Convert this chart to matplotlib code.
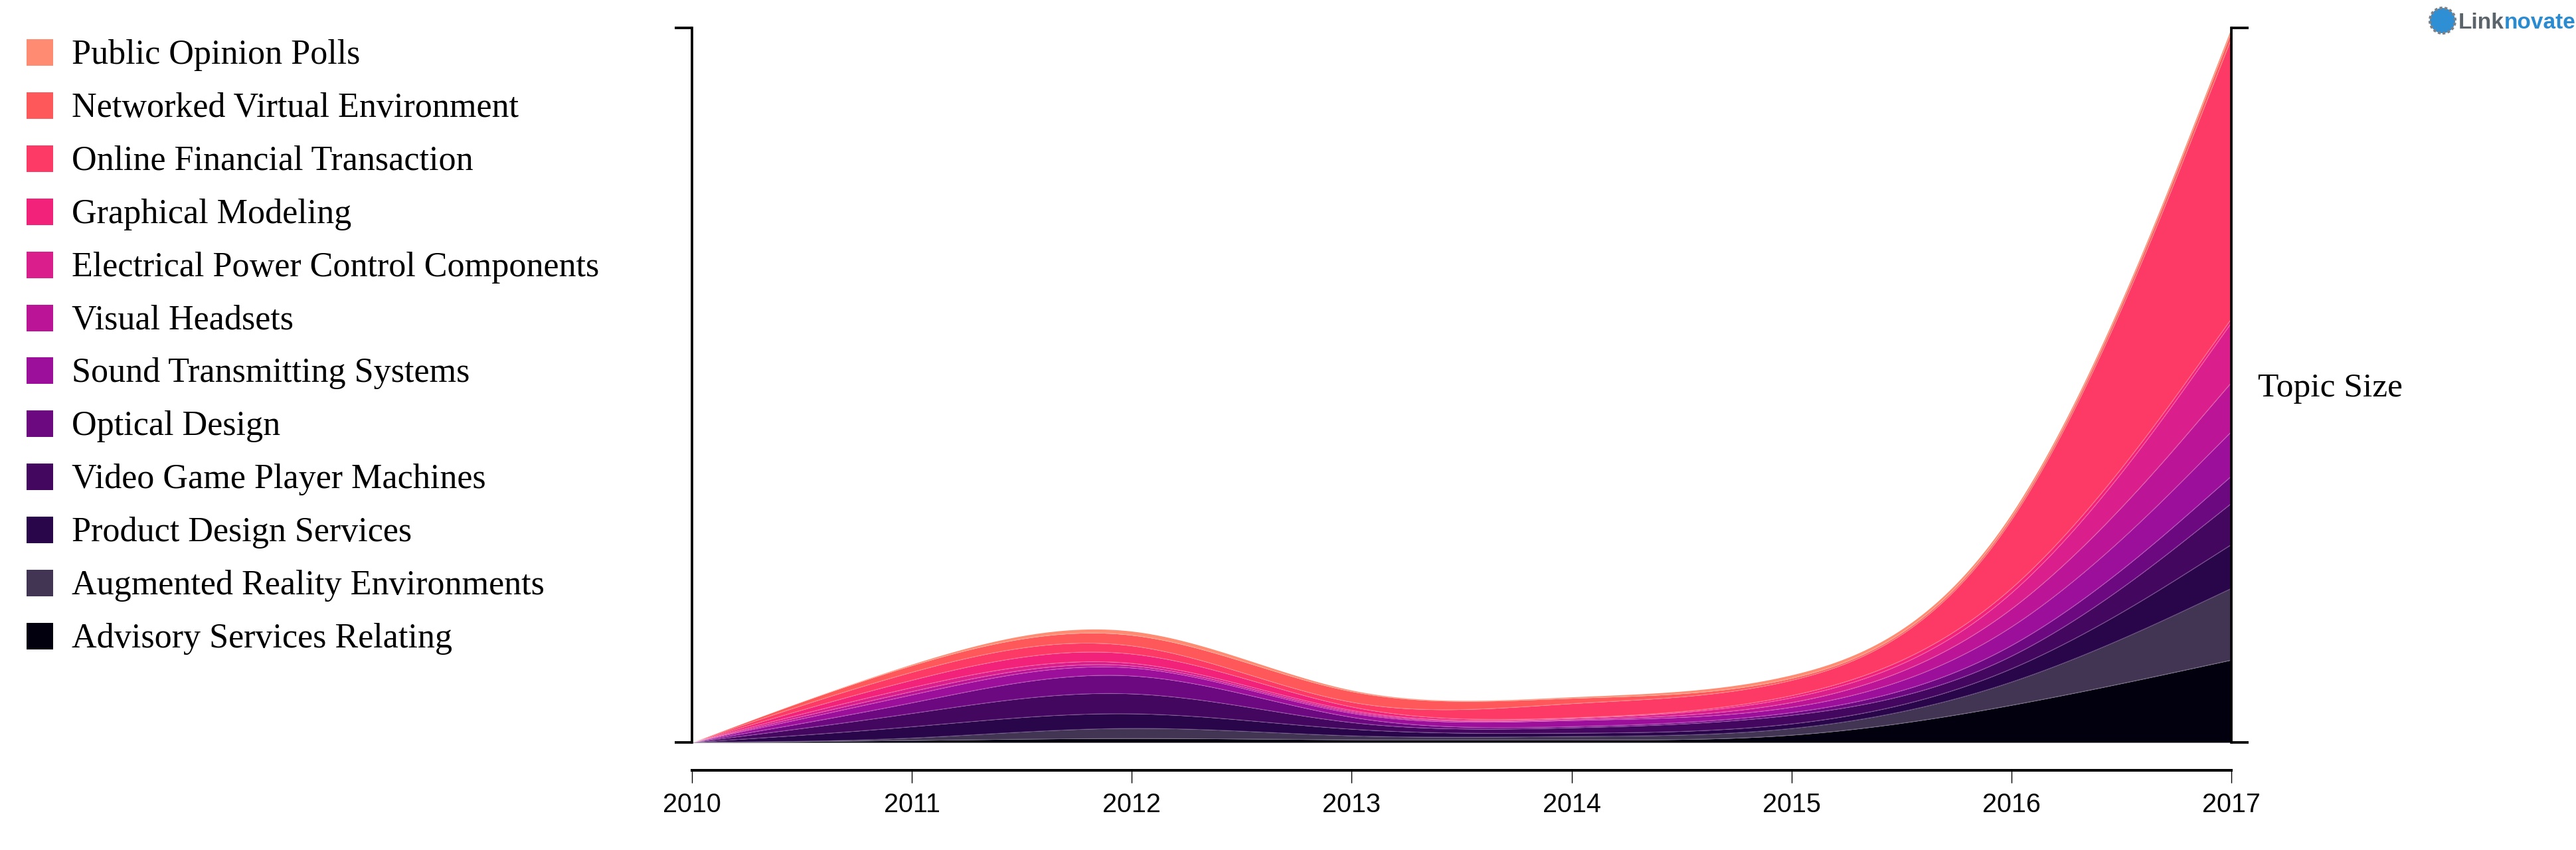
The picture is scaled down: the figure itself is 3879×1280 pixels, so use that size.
import numpy as np
import matplotlib.pyplot as plt
from matplotlib.patches import Rectangle, Ellipse

W, H = 3880, 1280

years = [2010, 2011, 2012, 2013, 2014, 2015, 2016, 2017]

# topic sizes, bottom layer first
advisory_services = [0, 3, 6, 4, 4, 11, 56, 124]
augmented_reality = [0, 3, 15, 6, 5, 10, 35, 108]
product_design = [0, 17, 22, 10, 5, 7, 20, 66]
video_game = [0, 20, 30, 10, 8, 13, 19, 62]
optical_design = [0, 16, 27, 8, 2, 4, 16, 41]
sound_transmitting = [0, 12, 12, 6, 9, 8, 28, 67]
visual_headsets = [0, 5, 3, 2, 1, 7, 27, 74]
electrical_power = [0, 6, 4, 2, 1, 7, 24, 90]
graphical_modeling = [0, 11, 14, 5, 0, 3, 7, 6]
online_financial = [0, 12, 12, 6, 21, 23, 103, 422]
networked_virtual = [0, 10, 16, 16, 8, 3, 4, 10]
public_opinion = [0, 2, 6, 2, 2, 5, 5, 6]

series = [advisory_services, augmented_reality, product_design, video_game,
          optical_design, sound_transmitting, visual_headsets, electrical_power,
          graphical_modeling, online_financial, networked_virtual, public_opinion]

labels = ['Advisory Services Relating', 'Augmented Reality Environments',
          'Product Design Services', 'Video Game Player Machines',
          'Optical Design', 'Sound Transmitting Systems', 'Visual Headsets',
          'Electrical Power Control Components', 'Graphical Modeling',
          'Online Financial Transaction', 'Networked Virtual Environment',
          'Public Opinion Polls']

colors = ['#02000f', '#423453', '#29064a', '#44075f', '#6c0880', '#9c0f9b',
          '#bb1496', '#da1f8c', '#f2217a', '#fd3a65', '#fe585a', '#fe8b72']


def basis_controls(vals):
    # control values so the d3-style basis curve passes through the read values
    s = np.asarray(vals, float)
    m = len(s)
    A = np.zeros((m, m))
    A[0, 0] = 1
    A[-1, -1] = 1
    for i in range(1, m - 1):
        A[i, i - 1:i + 2] = [1 / 6, 4 / 6, 1 / 6]
    return np.clip(np.linalg.solve(A, s), 0, None)


def basis_curve(xs, ys, n=40):
    xs = np.asarray(xs, float)
    ys = np.asarray(ys, float)
    t = np.linspace(0, 1, n)[1:]

    def bez(p0, c1, c2, p3):
        return (1 - t) ** 3 * p0 + 3 * (1 - t) ** 2 * t * c1 + 3 * (1 - t) * t ** 2 * c2 + t ** 3 * p3

    px, py = [xs[0]], [ys[0]]
    sx, sy = (5 * xs[0] + xs[1]) / 6, (5 * ys[0] + ys[1]) / 6
    px.append(sx)
    py.append(sy)
    m = len(xs)
    for k in range(2, m + 1):
        a, b = k - 2, k - 1
        if k < m:
            ex, ey = (xs[a] + 4 * xs[b] + xs[k]) / 6, (ys[a] + 4 * ys[b] + ys[k]) / 6
        else:
            ex, ey = (xs[a] + 5 * xs[b]) / 6, (ys[a] + 5 * ys[b]) / 6
        c1x, c1y = (2 * xs[a] + xs[b]) / 3, (2 * ys[a] + ys[b]) / 3
        c2x, c2y = (xs[a] + 2 * xs[b]) / 3, (ys[a] + 2 * ys[b]) / 3
        px.extend(bez(sx, c1x, c2x, ex))
        py.extend(bez(sy, c1y, c2y, ey))
        sx, sy = ex, ey
    px.append(xs[-1])
    py.append(ys[-1])
    return np.array(px), np.array(py)


controls = [basis_controls(s) for s in series]
cum = np.cumsum(np.array(controls), axis=0)

fig = plt.figure(figsize=(W / 100, H / 100), dpi=100)
ax = fig.add_axes([1042 / W, 1 - 1118 / H, (3360 - 1042) / W, (1118 - 42) / H])

lower = None
for i, top in enumerate(cum):
    x, y = basis_curve(years, top)
    if lower is None:
        lower = np.zeros_like(y)
    ax.fill_between(x, lower, y, color=colors[i], lw=0)
    if i < len(cum) - 1:
        ax.plot(x, y, color='white', alpha=0.3, lw=0.6)
    lower = y

ymax = cum[-1][-1]
ax.set_xlim(2010, 2017)
ax.set_ylim(0, ymax)

ax.spines['top'].set_visible(False)
for side in ['left', 'right']:
    ax.spines[side].set_linewidth(2.7)
ax.spines['bottom'].set_position(('outward', 30))
ax.spines['bottom'].set_linewidth(2.9)

ax.set_yticks([0, ymax])
ax.yaxis.set_ticks_position('both')
ax.tick_params(axis='y', direction='out', length=18.5, width=2.7,
               labelleft=False, labelright=False)

ax.set_xticks(years)
ax.set_xticklabels([str(y) for y in years], fontsize=28.5, family='Liberation Sans')
ax.tick_params(axis='x', direction='out', length=14, width=1.0, pad=10)

# legend
for i, (label, color) in enumerate(zip(labels[::-1], colors[::-1])):
    yc = 79 + 79.9 * i
    fig.add_artist(Rectangle((40 / W, 1 - (yc + 20) / H), 40 / W, 40 / H,
                             transform=fig.transFigure, color=color, lw=0))
    fig.text(108 / W, 1 - (yc + 17) / H, label, fontsize=37.5,
             family='Liberation Serif', va='baseline', ha='left')

fig.text(3400 / W, 1 - 597 / H, 'Topic Size', fontsize=37,
         family='Liberation Serif', va='baseline', ha='left')

# logo
fig.add_artist(Ellipse((3678 / W, 1 - 31 / H), 38 / W, 38 / H, transform=fig.transFigure,
                       facecolor='#2f8fd5', edgecolor='#7a8088', lw=3, ls=(0, (1, 0.8))))
t1 = fig.text(3702 / W, 1 - 43 / H, 'Link', fontsize=24, weight='bold',
              family='Liberation Sans', color='#5b636b', va='baseline')
ax.annotate('novate', xy=(1, 0), xycoords=t1, fontsize=24, weight='bold',
            family='Liberation Sans', color='#2a8bd0', va='bottom',
            annotation_clip=False)

plt.savefig('out.png', dpi=100)
